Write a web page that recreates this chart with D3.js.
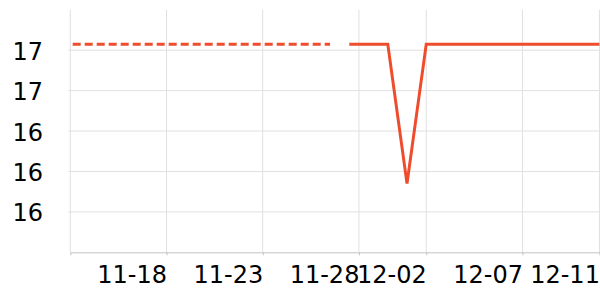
<!DOCTYPE html>
<html>
<head>
<meta charset="utf-8">
<script src="https://cdn.jsdelivr.net/npm/d3@7"></script>
<style>
  body { margin: 0; background: #fff; }
  text { font-family: "DejaVu Sans", sans-serif; }
</style>
</head>
<body>
<div id="chart"></div>
<script>
// data, one point per day
const dates = ["11-13","11-14","11-15","11-16","11-17","11-18","11-19","11-20","11-21","11-22",
  "11-23","11-24","11-25","11-26","11-27","11-28","11-29","11-30","12-01","12-02",
  "12-03","12-04","12-05","12-06","12-07","12-08","12-09","12-10","12-11"];
const values = [16.83,16.83,16.83,16.83,16.83,16.83,16.83,16.83,16.83,16.83,
  16.83,16.83,16.83,16.83,16.83,16.83,16.83,16.83,16.14,16.83,
  16.83,16.83,16.83,16.83,16.83,16.83,16.83,16.83,16.83];
// first part of the series is drawn dashed
const estimated = dates.map((d, i) => i <= 14);

// axis ticks (x positions are day indexes)
const xTickValues = [0.5, 5.5, 10.5, 15.5, 19, 24, 28];
const xTickLabels = ["", "11-18", "11-23", "11-28", "12-02", "12-07", "12-11"];
const yTickValues = [16.0, 16.2, 16.4, 16.6, 16.8];

const width = 600, height = 300;
const plotLeft = 70.3, plotRight = 600, plotTop = 9.8, plotBottom = 252.3;
const lineColor = "#ee4c2c";
const gridColor = "#e0e0e0";

const svg = d3.select("#chart").append("svg")
  .attr("width", width)
  .attr("height", height);

const x = d3.scaleLinear().domain([0.5, 28.03]).range([plotLeft, plotRight]);
const y = d3.scaleLinear().domain([15.8, 17]).range([plotBottom, plotTop]);

// clip for the line
svg.append("defs").append("clipPath")
  .attr("id", "plot")
  .append("rect")
  .attr("x", plotLeft).attr("y", 0)
  .attr("width", plotRight - plotLeft).attr("height", plotBottom);

// GRID
svg.append("g").selectAll("line")
  .data(yTickValues)
  .join("line")
  .attr("x1", plotLeft - 2).attr("x2", plotRight)
  .attr("y1", d => y(d)).attr("y2", d => y(d))
  .attr("stroke", gridColor).attr("stroke-width", 1);

svg.append("g").selectAll("line")
  .data(xTickValues)
  .join("line")
  .attr("x1", d => x(d)).attr("x2", d => x(d))
  .attr("y1", plotTop).attr("y2", plotBottom)
  .attr("stroke", gridColor).attr("stroke-width", 1);

// AXES
const xAxis = d3.axisBottom(x)
  .tickValues(xTickValues)
  .tickFormat((d, i) => xTickLabels[i])
  .tickSize(3)
  .tickSizeOuter(0)
  .tickPadding(11);

const gx = svg.append("g")
  .attr("transform", `translate(0,${plotBottom})`)
  .call(xAxis);
gx.select(".domain").attr("stroke", "#c4c4c4");
gx.selectAll(".tick line").attr("stroke", "#c4c4c4");
gx.selectAll(".tick text")
  .attr("font-size", "24px")
  .attr("font-family", "DejaVu Sans")
  .attr("fill", "#000")
  .attr("text-anchor", "end");

svg.selectAll("text.ylab")
  .data(yTickValues)
  .join("text")
  .attr("class", "ylab")
  .attr("x", 43)
  .attr("y", d => y(d))
  .attr("dy", "0.4em")
  .attr("text-anchor", "end")
  .attr("font-size", "24px")
  .attr("fill", "#000")
  .text(d => d3.format("d")(d));

// LINE
const points = values.map((v, i) => ({i: i, v: v, est: estimated[i]}));
const line = d3.line().x(d => x(d.i)).y(d => y(d.v));

const plot = svg.append("g").attr("clip-path", "url(#plot)");

plot.append("path")
  .datum(points.filter(d => d.est))
  .attr("d", line)
  .attr("fill", "none")
  .attr("stroke", lineColor)
  .attr("stroke-width", 3)
  .attr("stroke-dasharray", "8,4");

plot.append("path")
  .datum(points.filter(d => !d.est))
  .attr("d", line)
  .attr("fill", "none")
  .attr("stroke", lineColor)
  .attr("stroke-width", 3);
</script>
</body>
</html>
